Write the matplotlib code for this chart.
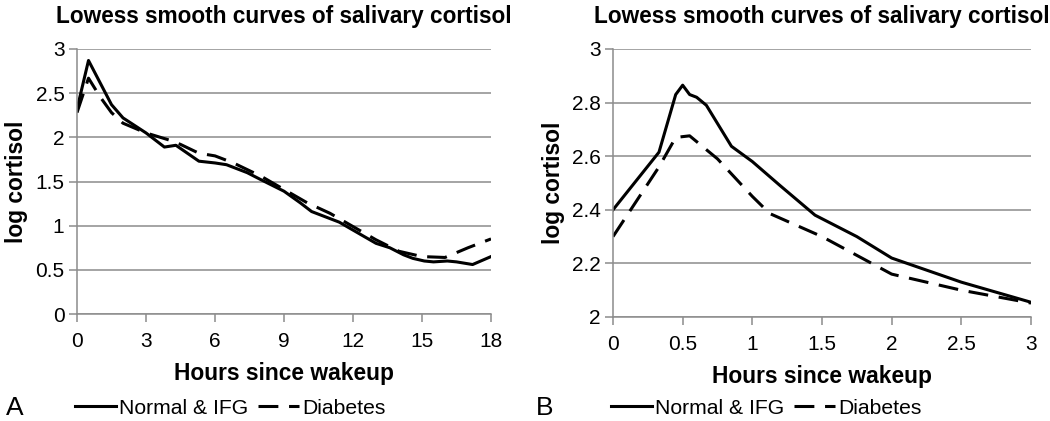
import matplotlib
matplotlib.use("Agg")
import matplotlib.pyplot as plt
from matplotlib.lines import Line2D

plt.rcParams['font.family'] = ['Liberation Sans', 'DejaVu Sans']

# Panel A data (0-18 h)
a_normal_x = [0, 0.5, 1.0, 1.5, 2.0, 3.0, 3.5, 3.8, 4.3, 4.8, 5.3, 6.0, 6.5, 7.4, 8.0, 9.0,
              9.7, 10.2, 10.9, 11.4, 12.0, 12.6, 13.0, 13.6, 14.2, 14.6, 15.1, 15.5, 16.1,
              16.5, 17.2, 18.0]
a_normal_y = [2.32, 2.87, 2.62, 2.37, 2.22, 2.05, 1.95, 1.89, 1.91, 1.82, 1.73, 1.71, 1.69,
              1.60, 1.52, 1.39, 1.26, 1.16, 1.09, 1.04, 0.95, 0.86, 0.80, 0.75, 0.67, 0.63,
              0.60, 0.59, 0.60, 0.59, 0.56, 0.65]
a_diab_x = [0, 0.5, 1.0, 1.5, 2.0, 3.0, 4.0, 4.5, 5.3, 6.0, 6.8, 8.0, 9.0, 10.0, 11.0, 12.0,
            13.0, 14.0, 15.0, 16.0, 17.0, 18.0]
a_diab_y = [2.28, 2.67, 2.46, 2.28, 2.16, 2.05, 1.97, 1.92, 1.82, 1.79, 1.71, 1.56, 1.41,
            1.26, 1.14, 0.99, 0.84, 0.71, 0.65, 0.64, 0.75, 0.85]

# Panel B data (0-3 h)
b_normal_x = [0, 0.33, 0.45, 0.5, 0.55, 0.6, 0.67, 0.85, 1.0, 1.2, 1.45, 1.75, 2.0, 2.5, 3.0]
b_normal_y = [2.40, 2.615, 2.83, 2.865, 2.83, 2.82, 2.79, 2.637, 2.58, 2.49, 2.38, 2.30,
              2.22, 2.13, 2.055]
b_diab_x = [0, 0.33, 0.45, 0.55, 0.75, 1.0, 1.125, 1.5, 2.0, 2.5, 3.0]
b_diab_y = [2.30, 2.56, 2.67, 2.676, 2.59, 2.45, 2.386, 2.30, 2.16, 2.10, 2.052]

a_xticks = [0, 3, 6, 9, 12, 15, 18]
a_yticks = [0, 0.5, 1, 1.5, 2, 2.5, 3]
a_yticklabels = ['0', '0.5', '1', '1.5', '2', '2.5', '3']
b_xticks = [0, 0.5, 1, 1.5, 2, 2.5, 3]
b_xticklabels = ['0', '0.5', '1', '1.5', '2', '2.5', '3']
b_yticks = [2, 2.2, 2.4, 2.6, 2.8, 3]
b_yticklabels = ['2', '2.2', '2.4', '2.6', '2.8', '3']

title = 'Lowess smooth curves of salivary cortisol'
labels = ['Normal & IFG', 'Diabetes']

W, H = 1050, 421
fig = plt.figure(figsize=(W / 100, H / 100), dpi=100)

grid_c = '#8c8c8c'
dash = (0, (6.5, 3.5))
lw = 2.2

def setup(ax, xlim, ylim, xt, xtl, yt, ytl):
    ax.set_xlim(*xlim)
    ax.set_ylim(*ylim)
    ax.set_xticks(xt)
    ax.set_xticklabels(xtl)
    ax.set_yticks(yt)
    ax.set_yticklabels(ytl)
    ax.grid(axis='y', color=grid_c, lw=1.1)
    ax.set_axisbelow(True)
    for s in ['top', 'right']:
        ax.spines[s].set_visible(False)
    for s in ['left', 'bottom']:
        ax.spines[s].set_color(grid_c)
        ax.spines[s].set_linewidth(1.1)
    ax.tick_params(axis='both', color=grid_c, width=1.1, length=6, labelsize=15)
    ax.tick_params(axis='x', pad=7)
    ax.tick_params(axis='y', pad=3)
    ax.set_title(title, fontsize=16.3, fontweight='bold', pad=19)
    ax.set_xlabel('Hours since wakeup', fontsize=16.4, fontweight='bold', labelpad=8)
    ax.set_ylabel('log cortisol', fontsize=16.4, fontweight='bold', labelpad=5)

axA = fig.add_axes([77 / W, 1 - 314 / H, (491 - 77) / W, (314 - 49) / H])
axA.plot(a_normal_x, a_normal_y, color='black', lw=lw, solid_joinstyle='round')
axA.plot(a_diab_x, a_diab_y, color='black', lw=lw, linestyle=dash)
setup(axA, (0, 18), (0, 3), a_xticks, [str(v) for v in a_xticks], a_yticks, a_yticklabels)

axB = fig.add_axes([613 / W, 1 - 317 / H, (1031 - 613) / W, (317 - 49) / H])
axB.plot(b_normal_x, b_normal_y, color='black', lw=lw, solid_joinstyle='round')
axB.plot(b_diab_x, b_diab_y, color='black', lw=lw, linestyle=dash)
setup(axB, (0, 3), (2, 3), b_xticks, b_xticklabels, b_yticks, b_yticklabels)

handles = [Line2D([], [], color='black', lw=lw),
           Line2D([], [], color='black', lw=lw, linestyle=dash)]
for letter, lx, legx in [('A', 6 / W, 75 / W), ('B', 536 / W, 611 / W)]:
    fig.text(lx, 1 - 408 / H, letter, fontsize=19, va='center', ha='left')
    fig.legend(handles, labels, loc='center left', bbox_to_anchor=(legx, 1 - 408 / H),
               ncol=2, frameon=False, fontsize=15.2, handlelength=1.95, handletextpad=0.15,
               columnspacing=0.45, borderaxespad=0, borderpad=0)

fig.savefig('out.png', dpi=100)
